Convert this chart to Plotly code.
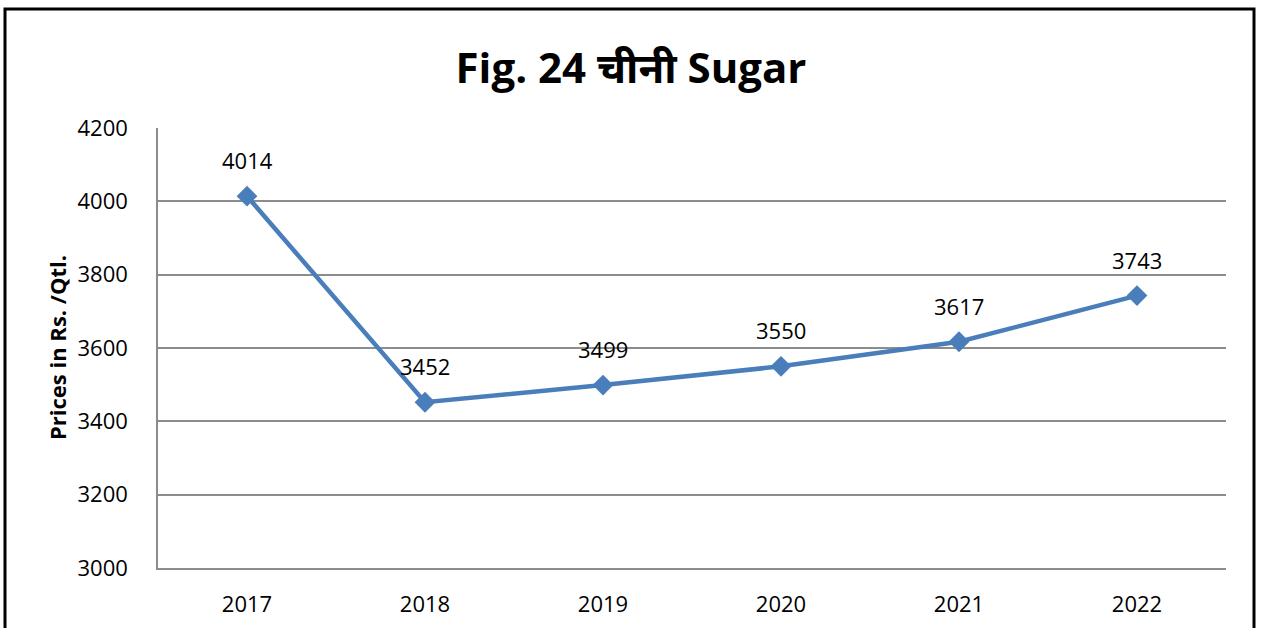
import plotly.graph_objects as go

years = ["2017", "2018", "2019", "2020", "2021", "2022"]
prices = [4014, 3452, 3499, 3550, 3617, 3743]
y_ticks = [3000, 3200, 3400, 3600, 3800, 4000, 4200]

FONT = "Open Sans, Noto Sans, Noto Sans Devanagari, sans-serif"
W, H = 1262, 628
L, R, T, B = 158, 36, 128, 60
pw, ph = W - L - R, H - T - B

def px_x(x):
    return (x - L) / pw

def px_y(y):
    return (H - B - y) / ph

fig = go.Figure()
fig.add_trace(go.Scatter(
    x=years, y=prices, mode="lines+markers",
    line=dict(color="#4A7EBB", width=4.5),
    marker=dict(symbol="diamond", size=16, color="#4A7EBB"),
    hoverinfo="x+y", showlegend=False,
))

annotations = [
    dict(x=i, y=v, xref="x", yref="y", text=str(v), showarrow=False,
         yshift=36, font=dict(family=FONT, size=22, color="black"))
    for i, v in enumerate(prices)
]
annotations.append(dict(
    x=px_x(57), y=px_y(348), xref="paper", yref="paper",
    xanchor="center", yanchor="middle",
    text="<b>Prices in Rs. /Qtl.</b>", textangle=-90, showarrow=False,
    font=dict(family=FONT, size=22, color="black"),
))

fig.update_layout(
    width=W, height=H,
    margin=dict(l=L, r=R, t=T, b=B, autoexpand=False),
    paper_bgcolor="white", plot_bgcolor="white",
    title=dict(text="<b>Fig. 24 चीनी Sugar</b>", x=0.5, xanchor="center",
               y=1 - 68 / H, yanchor="middle", yref="container",
               font=dict(family=FONT, size=42, color="black")),
    annotations=annotations,
    shapes=[dict(type="rect", xref="paper", yref="paper",
                 x0=px_x(5), x1=px_x(1254), y0=px_y(660), y1=px_y(9),
                 line=dict(color="black", width=3), layer="below")],
)
fig.update_xaxes(
    type="category", range=[-0.5, len(years) - 0.5], automargin=False,
    showgrid=False, showline=True, linecolor="#8C8C8C", linewidth=1.5,
    zeroline=False, ticks="", ticklabelstandoff=16,
    tickfont=dict(family=FONT, size=22, color="black"),
)
fig.update_yaxes(
    range=[3000, 4200], tickvals=y_ticks, showgrid=True, automargin=False,
    gridcolor="#8C8C8C", gridwidth=1.5,
    showline=True, linecolor="#8C8C8C", linewidth=1.5, zeroline=False,
    ticks="", ticklabelstandoff=24,
    tickfont=dict(family=FONT, size=22, color="black"),
)
fig.write_html("out.html", config={"displayModeBar": False},
               post_script="document.body.style.margin='0';")
